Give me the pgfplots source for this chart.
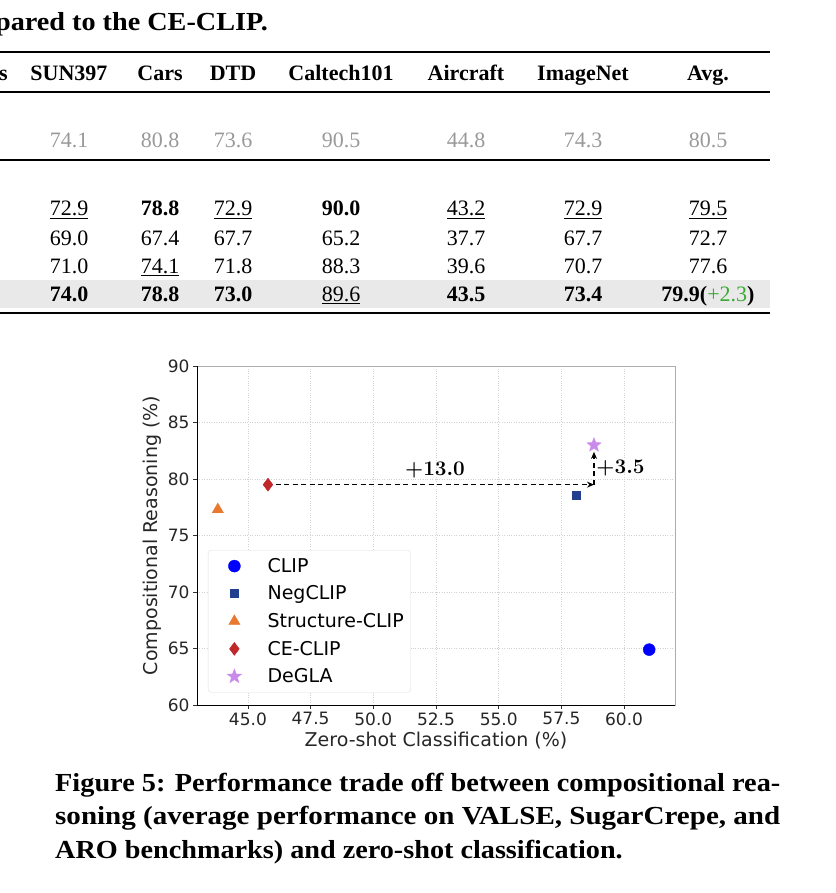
\documentclass[border=0pt]{standalone}
\usepackage{fontspec}
\setmainfont{Liberation Serif}
\newfontfamily\dejavu{DejaVu Sans}
\usepackage{graphicx}
\usepackage{pgfplots}
\pgfplotsset{compat=1.18}
\usetikzlibrary{arrows.meta}

\definecolor{clipblue}{HTML}{0000FF}
\definecolor{negblue}{HTML}{23408E}
\definecolor{structorange}{HTML}{E8792E}
\definecolor{cered}{HTML}{C0282A}
\definecolor{degla}{HTML}{C98BEB}
\definecolor{gainGreen}{HTML}{3AAA35}
\definecolor{rowgray}{HTML}{E9E9E9}

% filled five-pointed star
\pgfdeclareplotmark{fstar}{%
  \pgfpathmoveto{\pgfpointpolar{90}{\pgfplotmarksize}}%
  \pgfpathlineto{\pgfpointpolar{126}{0.42\pgfplotmarksize}}%
  \pgfpathlineto{\pgfpointpolar{162}{\pgfplotmarksize}}%
  \pgfpathlineto{\pgfpointpolar{198}{0.42\pgfplotmarksize}}%
  \pgfpathlineto{\pgfpointpolar{234}{\pgfplotmarksize}}%
  \pgfpathlineto{\pgfpointpolar{270}{0.42\pgfplotmarksize}}%
  \pgfpathlineto{\pgfpointpolar{306}{\pgfplotmarksize}}%
  \pgfpathlineto{\pgfpointpolar{342}{0.42\pgfplotmarksize}}%
  \pgfpathlineto{\pgfpointpolar{18}{\pgfplotmarksize}}%
  \pgfpathlineto{\pgfpointpolar{54}{0.42\pgfplotmarksize}}%
  \pgfpathclose
  \pgfusepathqfillstroke}

\newcommand{\tf}{\fontsize{22}{26}\selectfont}
\newcommand{\cf}{\bfseries\fontsize{26}{32}\selectfont}
\newcommand{\pf}{\dejavu\fontsize{17}{20}\selectfont}
\newcommand{\lf}{\dejavu\fontsize{19}{22}\selectfont}

\begin{document}
\begin{tikzpicture}
\useasboundingbox (0,0) rectangle (835pt,-893pt);
\clip (0,0) rectangle (835pt,-893pt);

% ---- table fragment above the figure ----
\begin{scope}[x=1pt, y=-1pt, every node/.style={anchor=base, inner sep=0pt, font=\tf}]
  \node[anchor=base east, font=\cf] at (268,31) {\scalebox{1.085}[1]{mpared to the CE-CLIP.}};
  \fill[rowgray] (0,280) rectangle (770,308);
  \draw[line width=1.6pt] (0,52) -- (770,52);
  \draw[line width=1.1pt] (0,92) -- (770,92);
  \draw[line width=1.1pt] (0,160) -- (770,160);
  \draw[line width=1.6pt] (0,313) -- (770,313);
  % header
  \begin{scope}[every node/.append style={font=\tf\bfseries}]
    \node[anchor=base east] at (8,81) {Pets};
    \node at (69,81) {SUN397};
    \node at (160,81) {Cars};
    \node at (233,81) {DTD};
    \node at (341,81) {Caltech101};
    \node at (466,81) {Aircraft};
    \node at (583,81) {ImageNet};
    \node at (708,81) {Avg.};
  \end{scope}
  % gray reference row
  \begin{scope}[every node/.append style={text=black!40}]
    \node at (69,148) {74.1};
    \node at (160,148) {80.8};
    \node at (233,148) {73.6};
    \node at (341,148) {90.5};
    \node at (466,148) {44.8};
    \node at (583,148) {74.3};
    \node at (708,148) {80.5};
  \end{scope}
  % rows
  \node at (69,216) {\underline{72.9}};
  \node at (160,216) {\textbf{78.8}};
  \node at (233,216) {\underline{72.9}};
  \node at (341,216) {\textbf{90.0}};
  \node at (466,216) {\underline{43.2}};
  \node at (583,216) {\underline{72.9}};
  \node at (708,216) {\underline{79.5}};
  \node at (69,245) {69.0};
  \node at (160,245) {67.4};
  \node at (233,245) {67.7};
  \node at (341,245) {65.2};
  \node at (466,245) {37.7};
  \node at (583,245) {67.7};
  \node at (708,245) {72.7};
  \node at (69,273) {71.0};
  \node at (160,273) {\underline{74.1}};
  \node at (233,273) {71.8};
  \node at (341,273) {88.3};
  \node at (466,273) {39.6};
  \node at (583,273) {70.7};
  \node at (708,273) {77.6};
  \node at (69,301) {\textbf{74.0}};
  \node at (160,301) {\textbf{78.8}};
  \node at (233,301) {\textbf{73.0}};
  \node at (341,301) {\underline{89.6}};
  \node at (466,301) {\textbf{43.5}};
  \node at (583,301) {\textbf{73.4}};
  \node at (708,301) {\textbf{79.9(}\textcolor{gainGreen}{+2.3}\textbf{)}};
  % caption
  \begin{scope}[every node/.append style={anchor=base west, font=\cf}]
    \node at (55,791) {\resizebox{725pt}{\height}{Figure 5: Performance trade off between compositional rea-}};
    \node at (55,824) {\resizebox{725pt}{\height}{soning (average performance on VALSE, SugarCrepe, and}};
    \node at (55,858) {\scalebox{1.085}[1]{ARO benchmarks) and zero-shot classification.}};
  \end{scope}
\end{scope}

% ---- the chart ----
\begin{axis}[
  at={(197pt,-366pt)}, anchor=north west,
  width=478pt, height=339pt, scale only axis,
  xmin=42.97, xmax=62.03, ymin=60, ymax=90,
  xtick={45,47.5,50,52.5,55,57.5,60},
  ytick={60,65,70,75,80,85,90},
  x tick label style={/pgf/number format/.cd, fixed, fixed zerofill, precision=1, /tikz/.cd},
  /pgf/number format/assume math mode=true,
  tick label style={font=\pf, text=black!85},
  label style={font=\lf, text=black!85},
  xlabel={Zero-shot Classification (\%)},
  ylabel={Compositional Reasoning (\%)},
  grid=major,
  major grid style={gray!35, dotted, line width=0.6pt},
  axis line style={gray!65, line width=0.9pt},
  tick align=outside, major tick length=4pt,
  tick style={black!80, line width=0.8pt},
  xtick pos=bottom, ytick pos=left,
  legend style={at={(0.023,0.457)}, anchor=north west, draw=gray!25,
    rounded corners=3pt, font=\lf, row sep=8pt, inner xsep=4pt, inner ysep=6pt,
    nodes={inner xsep=3pt}},
  legend cell align=left,
  legend image code/.code={\path (0pt,0pt) (52pt,0pt);
    \draw[#1] plot coordinates {(22pt,0pt)};},
]
\addplot[only marks, mark=*, mark size=6pt, color=clipblue] coordinates {(61.0,64.9)};
\addlegendentry{CLIP}
\addplot[only marks, mark=square*, mark size=4pt, color=negblue] coordinates {(58.1,78.6)};
\addlegendentry{NegCLIP}
\addplot[only marks, mark=triangle*, mark size=6.5pt, color=structorange] coordinates {(43.8,77.3)};
\addlegendentry{Structure-CLIP}
\addplot[only marks, mark=diamond*, mark size=6.5pt, color=cered] coordinates {(45.8,79.5)};
\addlegendentry{CE-CLIP}
\addplot[only marks, mark=fstar, mark size=7.5pt, color=degla] coordinates {(58.8,83.0)};
\addlegendentry{DeGLA}

\draw[black, line width=0.9pt] (rel axis cs:0,1) -- (rel axis cs:0,0) -- (rel axis cs:1,0);
\draw[dash pattern=on 5pt off 3.5pt, line width=1.3pt, -{Stealth[length=7pt,width=6pt]}] (axis cs:46.1,79.5) -- (axis cs:58.8,79.5);
\draw[dash pattern=on 5pt off 3.5pt, line width=1.3pt, -{Stealth[length=7pt,width=6pt]}] (axis cs:58.8,79.5) -- (axis cs:58.8,82.4);
\node[font=\fontsize{20}{22}\selectfont\boldmath] at (axis cs:52.46,80.8) {$+13.0$};
\node[anchor=west, inner sep=0pt, font=\fontsize{20}{22}\selectfont\boldmath] at (axis cs:58.89,81.0) {$+3.5$};
\end{axis}
\end{tikzpicture}
\end{document}
